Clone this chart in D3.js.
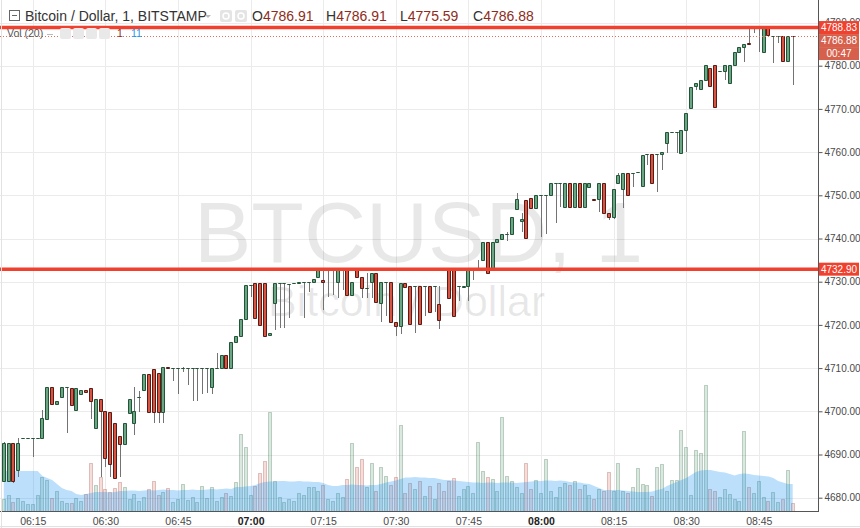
<!DOCTYPE html>
<html><head><meta charset="utf-8">
<script src="https://cdn.jsdelivr.net/npm/d3@7"></script>
<style>
html,body{margin:0;padding:0;background:#fff;}
svg{display:block;font-family:"Liberation Sans",Arial,Helvetica,sans-serif;}
</style></head>
<body><svg id="c" width="860" height="528"></svg>
<script>
// ---------- data ----------
const firstBar = "06:09";
const open = [
4683.9,4683.9,4692.7,4686.4,4693.9,4693.9,4693.9,4693.9,4693.8,4698.2,
4705.6,4701.7,4703.3,4705.6,4705.4,4700.3,4703.9,4704.9,4705.4,4696.1,
4702.8,4700.1,4699.9,4697.4,4694.3,4692.4,4699.5,4697.2,4703.3,4704.9,
4708.6,4709.9,4708.9,4699.9,4710.2,4710,4710,4710,4710,4710,
4710,4710,4710,4705.7,4710,4710,4713,4710,4716.1,4717.4,
4721.4,4729.2,4729.6,4729.6,4729.6,4717.7,4725.1,4729.6,4729.6,4729.5,
4729.6,4729.6,4729.9,4729.9,4729.9,4731.0,4730.5,4732.9,4732.9,4730.0,
4732.9,4732.9,4726.9,4732.9,4731.0,4728.5,4730.0,4731.9,4725.0,4730.0,
4730.0,4720.7,4719.8,4729.6,4729.0,4729.0,4729.0,4729.0,4729.0,4729.0,
4724.8,4733.0,4732.9,4732.9,4729.0,4728.7,4729.0,4732.9,4732.9,4735.0,
4739.3,4732.9,4739.3,4740.0,4741.0,4741.0,4746.8,4744.1,4748.8,4749.3,
4747.1,4750.1,4750.1,4750.1,4752.9,4752.9,4747.2,4752.9,4747.2,4752.9,
4747.2,4751.9,4749.2,4749.1,4752.9,4746.0,4745.0,4752.8,4751.4,4755.1,
4755.1,4755.5,4752.2,4759.5,4759.5,4759.5,4759.5,4762.2,4764.7,4764.7,
4759.7,4765.1,4770.1,4775.3,4774.5,4776.7,4779.5,4780.2,4778.8,4778.8,
4775.9,4780.2,4783.1,4784.3,4785.3,4788.8,4788.8,4783.2,4788.8,4786.9,
4786.9,4786.9,4781.2,4786.91];
const high = [
4692.9,4692.7,4692.7,4693.8,4693.9,4693.9,4693.9,4693.9,4700.3,4705.6,
4705.6,4702.5,4705.6,4705.6,4705.4,4705.4,4704.9,4704.9,4705.4,4702.8,
4702.8,4700.1,4699.9,4697.4,4694.3,4697.4,4702.8,4705.6,4704.8,4708.6,
4708.6,4709.9,4708.9,4710.2,4710.2,4710,4710,4710.3,4710,4710,
4710,4710,4710,4710,4713.4,4713,4713,4716.1,4717.4,4721.4,
4729.2,4729.2,4729.6,4729.6,4729.6,4718.1,4729.6,4729.6,4729.6,4729.5,
4729.6,4729.9,4729.9,4729.9,4730.6,4732.9,4732.9,4732.9,4732.9,4732.9,
4732.9,4732.9,4730.0,4732.9,4731.0,4732.0,4731.9,4731.9,4730.0,4730.0,
4730.0,4720.7,4729.8,4729.6,4729.0,4729.0,4729.0,4729.0,4729.0,4729.0,
4729.0,4733.0,4732.9,4732.9,4729.0,4729.0,4732.9,4732.9,4735.0,4739.3,
4739.3,4739.3,4740.0,4741.0,4741.5,4745.0,4750.5,4746.0,4748.8,4749.3,
4750.1,4750.1,4750.1,4752.9,4752.9,4752.9,4752.9,4752.9,4752.9,4752.9,
4752.9,4752.9,4749.2,4752.9,4752.9,4746.0,4751.4,4755.1,4755.1,4755.1,
4755.1,4755.5,4759.3,4759.5,4759.5,4759.5,4760.1,4764.7,4764.7,4764.7,
4765.1,4769.0,4775.1,4775.9,4776.7,4780.2,4779.5,4780.2,4778.8,4780.2,
4780.2,4783.1,4784.3,4785.0,4788.83,4788.83,4788.8,4788.8,4788.8,4786.9,
4786.9,4786.9,4786.9,4786.91];
const low = [
4683.9,4683.9,4683.5,4684.8,4693.9,4693.9,4689.4,4693.9,4693.8,4698.2,
4701.7,4701.7,4703.3,4695.0,4701.5,4700.3,4703.9,4704.5,4698.2,4696.1,
4684.8,4687.2,4684.9,4684.5,4684.9,4692.4,4699.5,4694.5,4699.9,4704.9,
4699.9,4697.4,4697.4,4697.4,4710.0,4707,4704,4709,4706,4702.4,
4702.4,4703.9,4704.2,4704.1,4710,4710,4710,4710,4716.1,4717.4,
4721.4,4726.5,4721.5,4720.0,4717.4,4717.7,4718.8,4719.2,4719.2,4721.6,
4729.6,4729.6,4721.5,4727.7,4729.9,4731.0,4723.4,4726.4,4727.0,4726.2,
4728.0,4726.9,4726.9,4731.0,4726.2,4726.2,4726.2,4725.4,4720.7,4722.0,
4720.7,4717.4,4717.9,4728.8,4720.1,4718.2,4720.1,4722.0,4723.1,4723.0,
4719.0,4732.8,4726.2,4722.1,4725.5,4728.7,4725.6,4730.4,4732.9,4735.0,
4732.1,4732.9,4739.3,4740.0,4739.5,4741.0,4746.8,4741.5,4740.2,4747.1,
4747.1,4740.4,4741.0,4750.1,4743.5,4747.4,4747.2,4747.2,4747.2,4747.2,
4747.2,4751.9,4749.0,4746.2,4746.0,4744.3,4744.4,4752.8,4747.0,4750.1,
4752.0,4755.5,4752.2,4757.0,4752.9,4750.8,4755.9,4759.9,4764.7,4759.9,
4759.7,4760.1,4770.1,4774.4,4774.5,4776.7,4775.3,4770.5,4778.8,4776.7,
4775.9,4780.2,4783.1,4780.9,4785.0,4787.5,4783.2,4783.2,4787.1,4780.6,
4785.2,4781.2,4781.2,4775.59];
const close = [
4692.7,4692.7,4683.9,4692.7,4693.9,4693.9,4693.9,4693.9,4698.4,4705.6,
4701.7,4702.5,4705.6,4705.6,4701.5,4705.4,4704.9,4704.5,4702.4,4702.8,
4700.0,4689.3,4687.8,4684.5,4692.4,4697.4,4702.8,4700.1,4703.3,4708.6,
4699.9,4699.9,4699.9,4710.2,4710.0,4710,4710,4710,4710,4710,
4710,4710,4710,4710,4710,4713,4710,4716.1,4717.4,4721.4,
4729.2,4729.2,4721.5,4720.0,4717.4,4718.1,4729.6,4729.6,4729.6,4729.5,
4729.6,4729.9,4729.9,4729.9,4730.6,4732.9,4730.0,4732.9,4732.9,4732.9,
4732.9,4726.9,4730.0,4731.0,4728.5,4728.5,4731.9,4725.4,4730.0,4730.0,
4720.7,4719.8,4729.8,4728.8,4720.1,4729.0,4720.1,4729.0,4723.1,4729.0,
4721.1,4732.8,4726.2,4722.1,4729.0,4729.0,4732.9,4732.9,4732.9,4739.3,
4732.1,4739.3,4740.0,4741.0,4741.0,4745.0,4749.1,4744.5,4740.2,4747.1,
4750.1,4750.1,4750.1,4752.9,4752.9,4752.9,4752.9,4747.2,4752.9,4747.2,
4752.9,4752.9,4749.0,4752.9,4746.0,4745.0,4751.4,4754.7,4755.1,4750.1,
4755.1,4755.5,4759.3,4759.5,4752.9,4759.5,4760.1,4764.7,4764.7,4764.7,
4765.1,4769.0,4775.1,4775.9,4776.7,4780.2,4775.3,4770.5,4778.8,4780.2,
4780.2,4783.1,4784.3,4785.0,4785.0,4788.8,4788.8,4788.8,4787.1,4786.9,
4786.9,4781.2,4786.9,4786.88];
const volume = [
12,16,9,13,10,7,7,16,34,31,
13,20,10,8,8,13,10,17,48,26,
34,22,19,23,29,24,12,17,10,14,
22,30,16,19,23,9,12,27,11,14,
9,25,13,24,10,14,18,15,29,77,
64,16,25,38,50,99,30,14,9,12,
10,18,16,24,24,20,26,12,10,18,
14,32,68,44,52,24,48,20,44,35,
26,34,86,18,28,22,30,15,25,12,
28,20,30,33,15,22,25,18,69,40,
34,32,20,94,35,30,24,18,48,22,
31,18,52,20,14,24,28,26,30,22,
26,16,12,22,20,39,20,48,20,18,
24,43,27,26,15,44,47,20,31,31,
81,64,16,61,58,126,22,20,14,22,
17,12,10,80,24,18,30,14,10,19,
9,12,41,8];
const volumeMA = [
40,40,40,40,40,40,40,40,35,33,
31,27,23,21,20,17,16,17,18,19,
19,19,18.5,19,20,20,20.5,20.5,20,20.5,
21,20.5,21,21.5,21,21,20.5,21,21,21.5,
21,21,21.5,22,21.5,22,22.5,22,24,24,
24.5,25,26,28,29,29.5,29.5,30,30,29.5,
29.5,30,29.5,29.5,29,29,28,26,25,25,
26,26,26.5,26,26,25.5,26,26,27,28.5,
29.5,30.5,32,33.5,33.5,34,33.5,33.5,33,33,
32,31,31,30.5,30,29.5,29,28.5,28.5,28,
28.5,28.5,28,28.5,28.5,28.5,28,28.5,29,29.5,
30,30,30.5,30.5,30,30.5,30,29,28.5,28.5,
27.5,27,25,23,21,21,21,21,20.5,20,
19.5,19,19,19,19.5,21,22,25,27,29,
31,33,36,39,40.5,41,41,40,39,38.5,
37,35.5,37,37.5,37,36,35.5,35,34.5,33,
30,28.5,27,27];
const priceTicks = [4680,4690,4700,4710,4720,4730,4740,4750,4760,4770,4780,4790];
const timeTicks = ["06:15","06:30","06:45","07:00","07:15","07:30","07:45","08:00","08:15","08:30","08:45"];
const levelLines = [4788.83, 4732.90];
const lastPrice = 4786.88;
const countdown = "00:47";
const title = "Bitcoin / Dollar, 1, BITSTAMP";
const volTitle = "Vol (20)";
const volValues = ["1", "11"];
const watermark = ["BTCUSD, 1", "Bitcoin / Dollar"];

// ---------- layout ----------
const W = 860, H = 528, plotR = 818, plotB = 511;
const svg = d3.select("#c");
const parse = d3.timeParse("%H:%M");
const t0 = parse(firstBar);
const n = open.length;
const times = d3.range(n).map(i => d3.timeMinute.offset(t0, i));

const x = d3.scaleTime().domain([parse("06:15"), parse("08:45")]).range([32.8, 758.8]);
const y = d3.scaleLinear().domain([4680, 4790]).range([497.7, 22.5]);
const yv = d3.scaleLinear().domain([0, 126]).range([plotB, 385]);

const UP = "#6ba583", UPB = "#225437", DN = "#d75442", DNB = "#5b1a13", WICK = "#737375";

svg.append("rect").attr("width", W).attr("height", H).attr("fill", "#fff");
const defs = svg.append("defs");
defs.append("clipPath").attr("id", "pc")
  .append("rect").attr("x", 0).attr("y", 0).attr("width", plotR).attr("height", plotB);
defs.append("clipPath").attr("id", "topclip")
  .append("rect").attr("x", plotR).attr("y", 0).attr("width", 50).attr("height", 21);

const plot = svg.append("g").attr("clip-path", "url(#pc)");

// gridlines
plot.append("g").selectAll("line").data(priceTicks).join("line")
  .attr("x1", 0).attr("x2", plotR)
  .attr("y1", d => Math.round(y(d)) + 0.5).attr("y2", d => Math.round(y(d)) + 0.5)
  .attr("stroke", "#ebebeb").attr("stroke-width", 1);
plot.append("g").selectAll("line").data(timeTicks).join("line")
  .attr("y1", 0).attr("y2", plotB)
  .attr("x1", d => Math.round(x(parse(d))) + 0.5).attr("x2", d => Math.round(x(parse(d))) + 0.5)
  .attr("stroke", "#ebebeb").attr("stroke-width", 1);

// watermark
plot.append("text").attr("x", 194).attr("y", 262).attr("font-size", 86)
  .attr("fill", "rgba(0,0,0,0.09)").text(watermark[0]);
plot.append("text").attr("x", 268).attr("y", 316).attr("font-size", 43)
  .attr("fill", "rgba(0,0,0,0.09)").text(watermark[1]);

const cx = i => x(times[i]);
const left = i => Math.round(cx(i) - 2);
const isUp = i => close[i] >= open[i];

// volume bars
plot.append("g").selectAll("rect").data(d3.range(n)).join("rect")
  .attr("x", i => left(i) + 0.5).attr("width", 3)
  .attr("y", i => Math.round(yv(volume[i])) + 0.5)
  .attr("height", i => Math.max(0.5, Math.round(yv(0)) - Math.round(yv(volume[i]))))
  .attr("fill", i => isUp(i) ? "rgba(107,165,131,0.25)" : "rgba(215,84,66,0.2)")
  .attr("stroke", i => isUp(i) ? "rgba(60,120,80,0.3)" : "rgba(150,60,50,0.28)")
  .attr("stroke-width", 1);

// volume MA area
const area = d3.area().x(i => cx(i)).y0(yv(0)).y1(i => yv(volumeMA[i]));
plot.append("path").datum(d3.range(n)).attr("d", area)
  .attr("fill", "rgba(33,150,243,0.3)");

// candles: wicks
plot.append("g").selectAll("line").data(d3.range(n)).join("line")
  .attr("x1", i => left(i) + 2).attr("x2", i => left(i) + 2)
  .attr("y1", i => y(high[i])).attr("y2", i => y(low[i]))
  .attr("stroke", WICK).attr("stroke-width", 1).attr("shape-rendering", "crispEdges");
// bodies
plot.append("g").selectAll("path").data(d3.range(n)).join("path")
  .attr("d", i => {
    const top = Math.round(y(Math.max(open[i], close[i]))) + 0.5;
    const bot = Math.round(y(Math.min(open[i], close[i]))) + 0.5;
    const l = left(i) + 0.5;
    return `M${l},${top}H${l + 3}V${bot}H${l}Z`;
  })
  .attr("fill", i => isUp(i) ? UP : DN)
  .attr("stroke", i => isUp(i) ? UPB : DNB).attr("stroke-width", 1);

// horizontal level lines
plot.append("g").selectAll("line").data(levelLines).join("line")
  .attr("x1", 0).attr("x2", plotR).attr("y1", d => y(d)).attr("y2", d => y(d))
  .attr("stroke", "#f0402e").attr("stroke-width", 3.5);
// last price dotted line
plot.append("line").attr("x1", 0).attr("x2", plotR)
  .attr("y1", Math.round(y(lastPrice)) + 0.5).attr("y2", Math.round(y(lastPrice)) + 0.5)
  .attr("stroke", "#e0705c").attr("stroke-dasharray", "1,2").attr("stroke-width", 1);

// axes
const yAxis = d3.axisRight(y).tickValues(priceTicks).tickFormat(d3.format(".2f")).tickSize(4).tickPadding(2);
const gy = svg.append("g").attr("transform", `translate(${plotR + 0.5},0)`).call(yAxis);
gy.select(".domain").remove();
gy.selectAll("line").attr("stroke", "#555");
gy.selectAll("text").attr("fill", "#4a4a4a").attr("font-size", 10)
  .attr("font-family", "Liberation Sans, Arial, sans-serif");
// the top label is partly hidden behind the level-line price box, as in the reference
gy.selectAll(".tick").filter(d => d === 4790).attr("clip-path", "url(#topclipLocal)");
gy.append("defs").append("clipPath").attr("id", "topclipLocal")
  .append("rect").attr("x", -2).attr("y", -30).attr("width", 50).attr("height", 21 + 30 - 22.5 + 0);

const xAxis = d3.axisBottom(x).tickValues(timeTicks.map(parse)).tickFormat(d3.timeFormat("%H:%M")).tickSize(0).tickPadding(6);
const gx = svg.append("g").attr("transform", `translate(0,${plotB + 0.5})`).call(xAxis);
gx.select(".domain").remove();
gx.selectAll("text").attr("font-size", 10.5)
  .attr("font-family", "Liberation Sans, Arial, sans-serif")
  .attr("font-weight", d => d.getMinutes() === 0 ? "bold" : "normal")
  .attr("fill", d => d.getMinutes() === 0 ? "#222" : "#4a4a4a");

svg.append("line").attr("x1", plotR + 0.5).attr("x2", plotR + 0.5).attr("y1", 0).attr("y2", plotB + 1)
  .attr("stroke", "#555");
svg.append("line").attr("x1", 0).attr("x2", plotR + 1).attr("y1", plotB + 0.5).attr("y2", plotB + 0.5)
  .attr("stroke", "#555");
svg.append("line").attr("x1", 0).attr("x2", W).attr("y1", H - 1.5).attr("y2", H - 1.5).attr("stroke", "#e2e2e2");
svg.append("line").attr("x1", 1.5).attr("x2", 1.5).attr("y1", 0).attr("y2", H).attr("stroke", "#e2e2e2");

// price label boxes
function priceBox(cy, txt, fill) {
  svg.append("rect").attr("x", plotR + 1).attr("y", cy - 6.5).attr("width", 40).attr("height", 13)
    .attr("fill", fill);
  svg.append("text").attr("x", plotR + 21).attr("y", cy + 3.6).attr("text-anchor", "middle")
    .attr("font-size", 10).attr("fill", "#fff").text(txt);
}
priceBox(y(levelLines[1]), levelLines[1].toFixed(2), "#f0402e");
priceBox(y(levelLines[0]), levelLines[0].toFixed(2), "#f0402e");
priceBox(y(levelLines[0]) + 13, lastPrice.toFixed(2), "#d6604b");
priceBox(y(levelLines[0]) + 26, countdown, "#d6604b");

// header legend
const hd = svg.append("g");
hd.append("rect").attr("x", 9.5).attr("y", 10.5).attr("width", 10).attr("height", 10)
  .attr("fill", "#fff").attr("stroke", "#666");
hd.append("line").attr("x1", 12).attr("x2", 17).attr("y1", 15.5).attr("y2", 15.5).attr("stroke", "#666");
hd.append("text").attr("x", 25).attr("y", 21).attr("font-size", 14).attr("fill", "#333").text(title);
hd.append("path").attr("d", "M205,15 L211,15 L208,18 Z").attr("fill", "#bbb");
[220, 235].forEach(px => {
  hd.append("rect").attr("x", px).attr("y", 10).attr("width", 12).attr("height", 12).attr("rx", 2)
    .attr("fill", "#e4e4e4");
  hd.append("circle").attr("cx", px + 6).attr("cy", 16).attr("r", 3).attr("fill", "none")
    .attr("stroke", "#fff").attr("stroke-width", 1.5);
});
const L = n - 1;
const ohlc = [["O", open[L]], ["H", high[L]], ["L", low[L]], ["C", close[L]]];
const hx = [252, 326, 400, 473];
ohlc.forEach((d, k) => {
  const t = hd.append("text").attr("x", hx[k]).attr("y", 21).attr("font-size", 14);
  t.append("tspan").attr("fill", "#333").text(d[0]);
  t.append("tspan").attr("fill", "#8e2c20").text(d[1].toFixed(2));
});
hd.append("text").attr("x", 7).attr("y", 37).attr("font-size", 10.5).attr("fill", "#555").text(volTitle);
hd.append("line").attr("x1", 47).attr("x2", 53).attr("y1", 34.5).attr("y2", 34.5).attr("stroke", "#bbb");
[60, 73, 86, 99].forEach(px => {
  hd.append("rect").attr("x", px).attr("y", 28).attr("width", 11).attr("height", 11).attr("rx", 2)
    .attr("fill", "#e9e9e9");
});
hd.append("text").attr("x", 117).attr("y", 37).attr("font-size", 10.5).attr("fill", "#8e2c20").text(volValues[0]);
hd.append("text").attr("x", 131).attr("y", 37).attr("font-size", 10.5).attr("fill", "#2196f3").text(volValues[1]);
</script>
</body></html>
